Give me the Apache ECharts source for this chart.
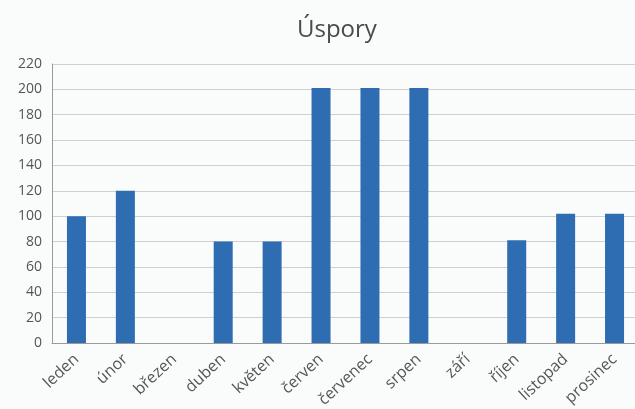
<!DOCTYPE html>
<html>
<head>
<meta charset="utf-8">
<script src="https://cdn.jsdelivr.net/npm/echarts@6/dist/echarts.min.js"></script>
<style>
  html, body { margin: 0; padding: 0; background: #fafbfb; }
  #chart { width: 635px; height: 409px; }
</style>
</head>
<body>
<div id="chart"></div>
<script>
// kategorie a hodnoty
const months = ['leden', 'únor', 'březen', 'duben', 'květen', 'červen', 'červenec', 'srpen', 'září', 'říjen', 'listopad', 'prosinec'];
const savings = [100, 120, 0, 80, 80, 201, 201, 201, 0, 81, 102, 102];

const chart = echarts.init(document.getElementById('chart'));
const option = {
  backgroundColor: '#fafbfb',
  animation: false,
  title: {
    text: 'Úspory',
    left: 292,
    top: 13,
    textStyle: { fontFamily: 'Open Sans', fontSize: 24, fontWeight: 'normal', color: '#4a4a4c' }
  },
  grid: { left: 52, right: -4, top: 64, bottom: 66, containLabel: false, outerBoundsMode: 'none' },
  xAxis: {
    type: 'category',
    data: months,
    axisTick: { show: false },
    axisLine: { lineStyle: { color: '#9a9a9a' } },
    axisLabel: {
      interval: 0,
      rotate: 43,
      margin: 14,
      fontFamily: 'Open Sans',
      fontSize: 16,
      color: '#555'
    }
  },
  yAxis: {
    type: 'value',
    min: 0,
    max: 220,
    interval: 20,
    axisLine: { show: true, lineStyle: { color: '#9a9a9a' } },
    axisLabel: { fontFamily: 'Open Sans', fontSize: 14, color: '#555', margin: 10 },
    splitLine: { lineStyle: { color: '#cfcfcf' } }
  },
  series: [{
    type: 'bar',
    data: savings,
    barWidth: 19,
    itemStyle: { color: '#2f6db3' }
  }]
};
chart.setOption(option);
</script>
</body>
</html>
